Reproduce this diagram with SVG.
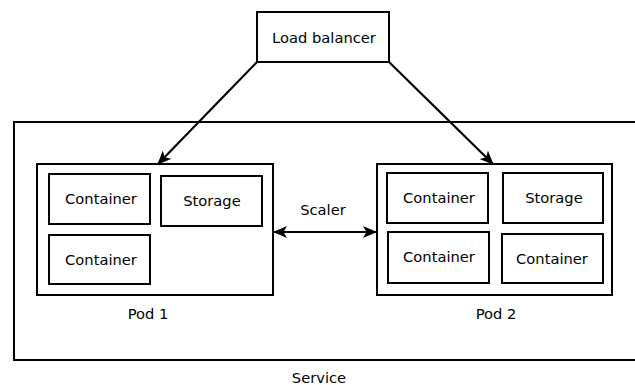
<svg xmlns="http://www.w3.org/2000/svg" width="635" height="385" viewBox="0 0 635 385">
<style>
rect { fill: #fff; stroke: #000; stroke-width: 2; }
text { font-family: "DejaVu Sans", Verdana, sans-serif; font-size: 14.7px; fill: #000; text-anchor: middle; }
.edge { stroke: #000; stroke-width: 2.2; fill: none; }
</style>
<defs>
<marker id="arr" viewBox="0 0 14 12" refX="13" refY="6" markerWidth="14" markerHeight="12" markerUnits="userSpaceOnUse" orient="auto-start-reverse">
<path d="M0,0 L14,6 L0,12 L3.5,6 Z" fill="#000"/>
</marker>
</defs>
<g id="service">
<rect x="14" y="122" width="630" height="238"/>
<text x="319" y="383">Service</text>
</g>
<g id="pod1">
<rect x="37" y="164" width="236" height="131"/>
<text x="148" y="319">Pod 1</text>
</g>
<g id="pod1-container1">
<rect x="49" y="174" width="101" height="50"/>
<text x="101" y="204">Container</text>
</g>
<g id="pod1-storage">
<rect x="161" y="176" width="101" height="50"/>
<text x="212" y="206">Storage</text>
</g>
<g id="pod1-container2">
<rect x="49" y="235" width="101" height="49"/>
<text x="101" y="265">Container</text>
</g>
<g id="pod2">
<rect x="377" y="164" width="235" height="131"/>
<text x="496" y="319">Pod 2</text>
</g>
<g id="pod2-container1">
<rect x="387" y="173" width="101" height="50"/>
<text x="439" y="203">Container</text>
</g>
<g id="pod2-storage">
<rect x="503" y="173" width="100" height="50"/>
<text x="554" y="203">Storage</text>
</g>
<g id="pod2-container2">
<rect x="388" y="232" width="101" height="51"/>
<text x="439" y="262">Container</text>
</g>
<g id="pod2-container3">
<rect x="502" y="234" width="101" height="49"/>
<text x="552" y="264">Container</text>
</g>
<g id="load-balancer">
<rect x="257" y="12" width="132" height="50"/>
<text x="324" y="43">Load balancer</text>
</g>
<g id="connectors">
<line class="edge" x1="257" y1="62" x2="158" y2="164" marker-end="url(#arr)"/>
<line class="edge" x1="389" y1="62" x2="493" y2="164" marker-end="url(#arr)"/>
<line class="edge" x1="274" y1="232" x2="376" y2="232" marker-start="url(#arr)" marker-end="url(#arr)"/>
<text x="323" y="215">Scaler</text>
</g>
</svg>
